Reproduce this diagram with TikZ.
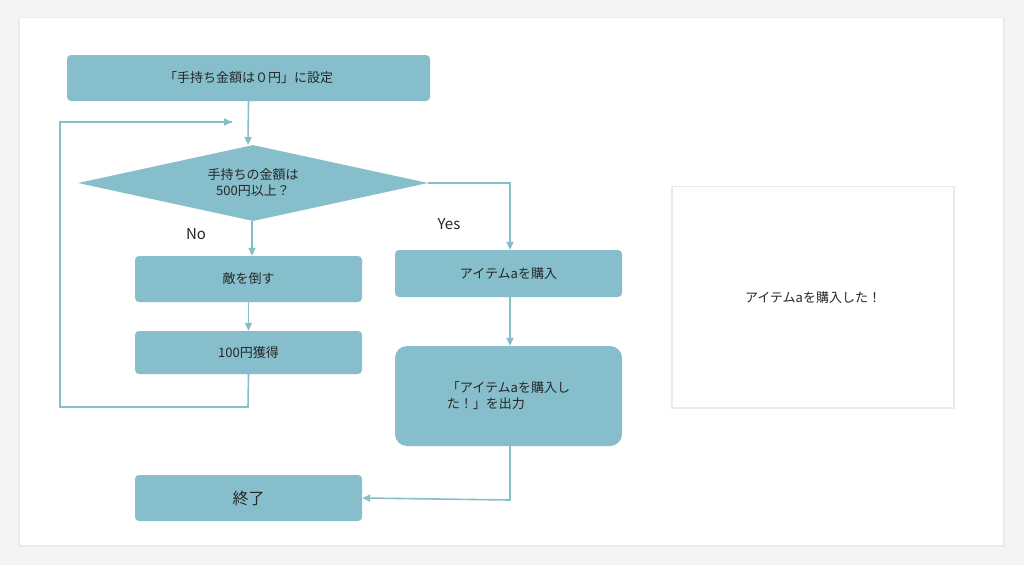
\documentclass[tikz,border=0pt]{standalone}
\usepackage{fontspec}
\setmainfont{Noto Sans CJK JP}
\usetikzlibrary{shapes.geometric,arrows.meta,shadows}
\definecolor{tl}{HTML}{86BFCB}
\definecolor{bg}{HTML}{F4F4F4}
\begin{document}
\begin{tikzpicture}[x=1pt,y=-1pt,
 box/.style={fill=tl,draw=none,rounded corners=4pt,text=black!85,font=\fontsize{13}{16}\selectfont,inner sep=0pt},
 ln/.style={draw=tl,line width=1.6pt},
 ar/.style={ln,-{Triangle[length=8pt,width=7pt]}},
 lab/.style={font=\fontsize{15}{18}\selectfont,text=black!85}]
\useasboundingbox (0,0) rectangle (1024,565);
\fill[bg] (0,0) rectangle (1024,565);
\fill[black!8] (18,17) rectangle (1005,547);
\fill[white] (20,18) rectangle (1003,545);
\fill[black!8] (671,186) rectangle (955,409);
\fill[white] (673,187) rectangle (953,407);
\node[font=\fontsize{13}{16}\selectfont,text=black!85] (msg) at (813,298) {アイテムaを購入した！};
\node[box,minimum width=363pt,minimum height=46pt] (start) at (248.5,78) {「手持ち金額は０円」に設定};
\node[diamond,fill=tl,draw=none,minimum width=350pt,minimum height=76pt,inner sep=0pt,aspect=4.6,text=black!85,font=\fontsize{13}{16}\selectfont,align=center] (dec) at (253,183) {手持ちの金額は\\500円以上？};
\node[box,minimum width=227pt,minimum height=46pt] (enemy) at (248.5,279) {敵を倒す};
\node[box,minimum width=227pt,minimum height=43pt] (gain) at (248.5,352.5) {100円獲得};
\node[box,minimum width=227pt,minimum height=47pt] (buy) at (508.5,273.5) {アイテムaを購入};
\node[box,rounded corners=12pt,minimum width=227pt,minimum height=100pt,align=left] (out) at (508.5,396) {「アイテムaを購入し\\た！」を出力};
\node[box,minimum width=227pt,minimum height=46pt,font=\fontsize{16}{19}\selectfont] (end) at (248.5,498) {終了};
\coordinate (ld) at (248,407);
\coordinate (ll) at (60,407);
\coordinate (lu) at (60,122);
\coordinate (lt) at (232,122);
\coordinate (dr) at (510,183);
\coordinate (ob) at (510,500);
\draw[ar] (start.south) -- (248,145);
\draw[ar] (252,221) -- (enemy.north -| 252,0);
\draw[ar] (enemy.south) -- (gain.north);
\draw[ln] (gain.south) -- (ld) -- (ll) -- (lu) -- (lt);
\draw[ar] (ll) -- (lu) -- (lt);
\draw[ar] (dec.east) -- (dr) -- (buy.north -| dr);
\draw[ar] (buy.south -| dr) -- (out.north -| dr);
\draw[ar] (out.south -| dr) -- (ob) -- (end.east);
\node[lab] (no) at (196,234) {No};
\node[lab] (yes) at (449,224) {Yes};
\end{tikzpicture}
\end{document}
